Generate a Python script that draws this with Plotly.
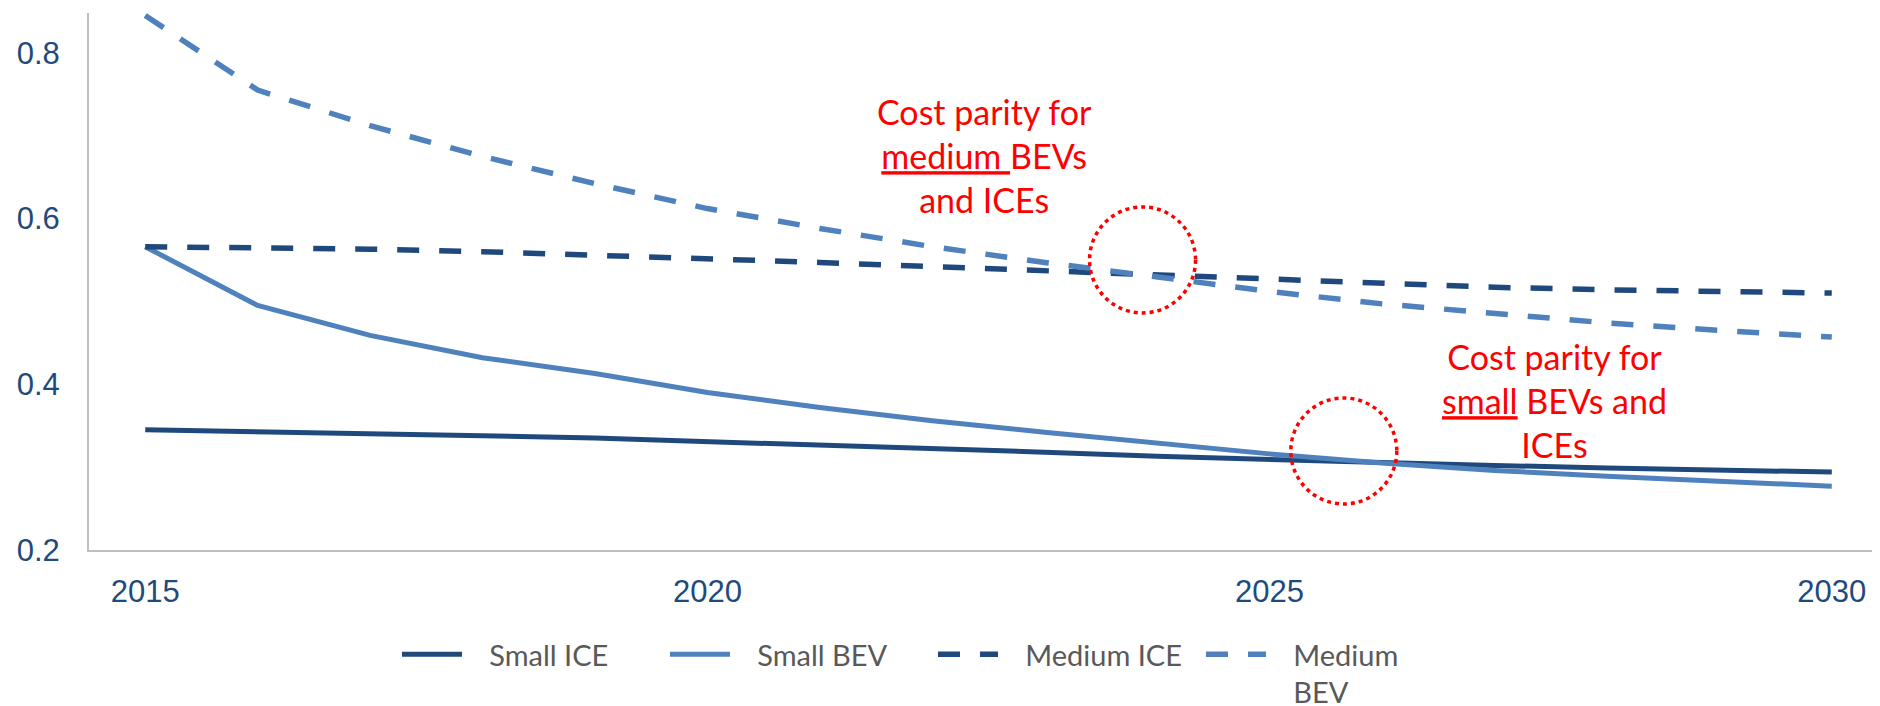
import plotly.graph_objects as go

years = list(range(2015, 2031))
small_ice = [0.345, 0.343, 0.341, 0.338, 0.335, 0.331, 0.327, 0.322, 0.318, 0.313, 0.309, 0.305, 0.302, 0.299, 0.296, 0.294]
small_bev = [0.566, 0.495, 0.459, 0.432, 0.413, 0.390, 0.372, 0.356, 0.342, 0.329, 0.316, 0.305, 0.296, 0.289, 0.283, 0.277]
medium_ice = [0.566, 0.565, 0.563, 0.560, 0.556, 0.551, 0.547, 0.542, 0.537, 0.532, 0.526, 0.521, 0.517, 0.514, 0.512, 0.510]
medium_bev = [0.845, 0.755, 0.712, 0.675, 0.642, 0.612, 0.588, 0.566, 0.547, 0.529, 0.512, 0.497, 0.485, 0.474, 0.465, 0.457]

x_ticks = [2015, 2020, 2025, 2030]
y_ticks = [0.2, 0.4, 0.6, 0.8]
y_ticktext = ["0.2", "0.4", "0.6", "0.8"]

DARK = "#1F497D"
LIGHT = "#4F81BD"
TICK = "#1F4A7C"
PAD = "\u00a0\u00a0\u00a0"

fig = go.Figure()
fig.add_trace(go.Scatter(x=years, y=small_ice, name=PAD + "Small ICE", mode="lines",
                         line=dict(color=DARK, width=5)))
fig.add_trace(go.Scatter(x=years, y=small_bev, name=PAD + "Small BEV", mode="lines",
                         line=dict(color=LIGHT, width=5)))
fig.add_trace(go.Scatter(x=years, y=medium_ice, name=PAD + "Medium ICE", mode="lines",
                         line=dict(color=DARK, width=5.5, dash="22px,20px")))
fig.add_trace(go.Scatter(x=years, y=medium_bev, name=PAD + "Medium<br>" + PAD + "BEV", mode="lines",
                         line=dict(color=LIGHT, width=5.5, dash="22px,20px")))

circles = [(2023.87, 0.550), (2025.66, 0.3195)]
for cx, cy in circles:
    fig.add_shape(type="circle", xref="x", yref="y", xsizemode="pixel", ysizemode="pixel",
                  xanchor=cx, yanchor=cy, x0=-53, x1=53, y0=-53, y1=53,
                  line=dict(color="#FF0000", width=3.5, dash="4px,4px"))

ann_font = dict(family="Lato, 'Open Sans', sans-serif", size=34, color="#FF0000")
fig.add_annotation(text="Cost parity for<br><u>medium </u>BEVs<br>and ICEs",
                   xref="paper", yref="paper", x=0.4975, y=0.735,
                   xanchor="center", yanchor="middle", showarrow=False, font=ann_font, align="center")
fig.add_annotation(text="Cost parity for<br><u>small</u> BEVs and<br>ICEs",
                   xref="paper", yref="paper", x=0.8146, y=0.2793,
                   xanchor="center", yanchor="middle", showarrow=False, font=ann_font, align="center")

# page body has an 8px default margin: offset the margins so the plot lands where the reference has it
fig.update_layout(
    width=1880, height=706,
    margin=dict(l=81, r=0, t=5, b=164, autoexpand=False),
    paper_bgcolor="white", plot_bgcolor="white",
    showlegend=True,
    legend=dict(orientation="h", x=0.1712, xanchor="left", y=-0.147, yanchor="top",
                font=dict(family="Lato, 'Open Sans', sans-serif", size=29, color="#595959"),
                itemwidth=60, entrywidth=193, valign="top", traceorder="normal"),
    xaxis=dict(range=[2014.5, 2030.5], tickvals=x_ticks, showgrid=False, zeroline=False,
               showline=True, linecolor="#BFBFBF", linewidth=2, ticks="", automargin=False,
               ticklabelstandoff=13,
               tickfont=dict(family="Liberation Sans, Arial, sans-serif", size=31, color=TICK)),
    yaxis=dict(range=[0.2, 0.848], tickvals=y_ticks, ticktext=y_ticktext, showgrid=False, zeroline=False,
               showline=True, linecolor="#BFBFBF", linewidth=2, ticks="", automargin=False,
               ticklabelstandoff=21,
               tickfont=dict(family="Liberation Sans, Arial, sans-serif", size=31, color=TICK)),
)

fig.write_html("out.html")
